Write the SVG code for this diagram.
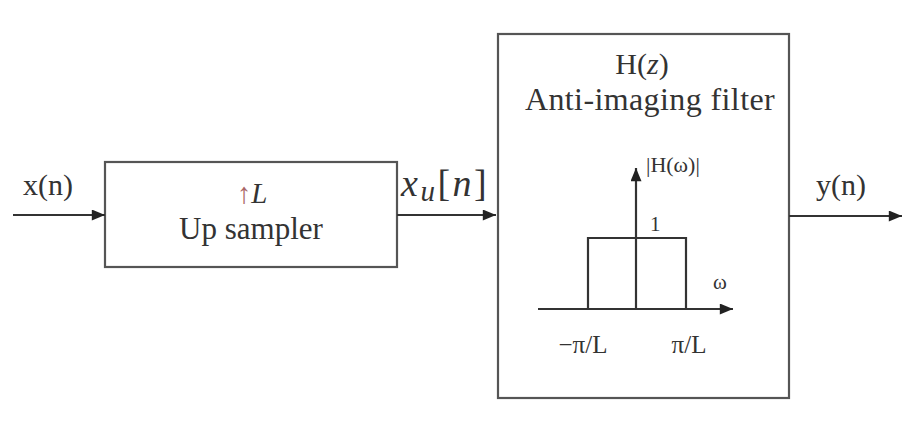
<svg xmlns="http://www.w3.org/2000/svg" width="906" height="421" viewBox="0 0 906 421">
<style>
.box{fill:#fff;stroke:#555;stroke-width:2.2}
.ln{stroke:#333;stroke-width:2.2;fill:none}
.t{font-family:"Liberation Serif","Times New Roman","DejaVu Serif",serif;fill:#333}
</style>
<defs>
<marker id="ah" viewBox="0 0 12 10" refX="12" refY="5" markerWidth="6.5" markerHeight="5" markerUnits="strokeWidth" orient="auto">
<path d="M0,0 L12,5 L0,10 z" fill="#222"/>
</marker>
</defs>
<rect width="906" height="421" fill="#fff"/>
<g id="upsampler">
<rect class="box" x="105" y="162" width="292" height="105"/>
<text class="t" x="252" y="203" font-size="29" text-anchor="middle"><tspan fill="#a66">↑</tspan><tspan font-style="italic">L</tspan></text>
<text class="t" x="251" y="239" font-size="31" text-anchor="middle">Up sampler</text>
</g>
<g id="filter">
<rect class="box" x="498" y="34" width="291" height="364"/>
<text class="t" x="642" y="74" font-size="30" text-anchor="middle">H(<tspan font-style="italic">z</tspan>)</text>
<text class="t" x="650" y="110" font-size="32" text-anchor="middle" letter-spacing="0.4">Anti-imaging filter</text>
<g id="plot">
<line class="ln" x1="538" y1="309" x2="733" y2="309" marker-end="url(#ah)"/>
<line class="ln" x1="636" y1="309" x2="636" y2="168" marker-end="url(#ah)"/>
<polyline class="ln" points="588,309 588,238 686,238 686,309"/>
<text class="t" x="646" y="172" font-size="22">|H(ω)|</text>
<text class="t" x="650" y="231" font-size="21">1</text>
<text class="t" x="713" y="289" font-size="21">ω</text>
<text class="t" x="583" y="353" font-size="25" text-anchor="middle">−π/L</text>
<text class="t" x="689" y="353" font-size="25" text-anchor="middle">π/L</text>
</g>
</g>
<g id="connectors">
<line class="ln" x1="13" y1="215" x2="105" y2="215" marker-end="url(#ah)"/>
<line class="ln" x1="397" y1="215" x2="496" y2="215" marker-end="url(#ah)"/>
<line class="ln" x1="789" y1="216" x2="902" y2="216" marker-end="url(#ah)"/>
</g>
<g id="labels">
<text class="t" x="23" y="195" font-size="30">x(n)</text>
<text class="t" x="401" y="196" font-size="38" font-style="italic" fill="#111" letter-spacing="2.5">x<tspan font-size="29" dy="5">u</tspan><tspan font-style="normal" dy="-5">[</tspan>n<tspan font-style="normal">]</tspan></text>
<text class="t" x="816" y="195" font-size="30">y(n)</text>
</g>
</svg>
